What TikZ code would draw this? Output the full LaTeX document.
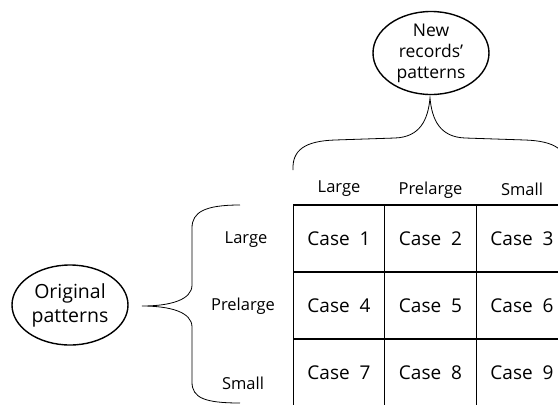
\documentclass[tikz,border=0pt]{standalone}
\usepackage{fontspec}
\setmainfont{Open Sans}
\usetikzlibrary{shapes.geometric}
\begin{document}
\begin{tikzpicture}[x=1pt,y=-1pt,
  oval/.style={ellipse,draw,line width=1.4pt,inner sep=0pt,align=center},
  cell/.style={draw,line width=1.2pt,minimum width=91.5pt,minimum height=67pt,inner sep=0pt,font=\fontsize{19}{22}\selectfont},
  lbl/.style={font=\fontsize{16.5}{19}\selectfont,inner sep=0pt},
  brace/.style={draw,line width=0.8pt}]
\clip (0,0) rectangle (558,405);
\fill[white] (0,0) rectangle (558,405);
% ellipses
\node[oval,minimum width=116pt,minimum height=70pt,font=\fontsize{17.5}{21}\selectfont] (new) at (431,53) {New\\records'\\patterns};
\node[oval,minimum width=116pt,minimum height=80pt,font=\fontsize{19.5}{24}\selectfont] (orig) at (70,305) {Original\\patterns};
% grid
\foreach \r [count=\i from 0] in {238.5,305.5,372.5}{
  \foreach \c [count=\j from 1] in {339,430.5,522}{
    \pgfmathtruncatemacro{\n}{\i*3+\j}
    \node[cell] (c\n) at (\c,\r) {Case\ \ \n};
  }
}
% column labels
\node[lbl] (cl) at (339,189) {Large};
\node[lbl] (cp) at (430.5,190) {Prelarge};
\node[lbl] (cs) at (522,189) {Small};
% row labels
\node[lbl] (rl) at (246,240) {Large};
\node[lbl] (rp) at (243,306) {Prelarge};
\node[lbl] (rs) at (243,383) {Small};
% top brace
\draw[brace] (293,170) .. controls (292,150) and (305,141) .. (335,140)
  -- (395,138) .. controls (420,137) and (428,120) .. (430,98)
  .. controls (432,120) and (440,137) .. (465,138)
  -- (525,140) .. controls (555,141) and (568,150) .. (567,170);
% left brace
\draw[brace] (240,205) .. controls (205,205) and (192,212) .. (192,228)
  -- (192,285) .. controls (192,300) and (170,306) .. (142,306)
  .. controls (170,306) and (192,312) .. (192,327)
  -- (192,382) .. controls (192,398) and (205,403) .. (240,403);
\end{tikzpicture}
\end{document}
